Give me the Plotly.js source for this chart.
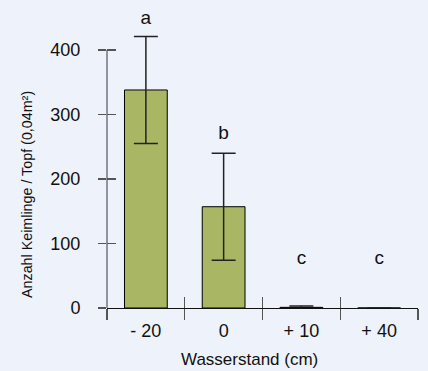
<!DOCTYPE html>
<html>
<head>
<meta charset="utf-8">
<script src="https://cdn.plot.ly/plotly-3.0.1.min.js"></script>
<style>html,body{margin:0;padding:0;background:#EEF2FA;}</style>
</head>
<body>
<div id="chart" style="width:428px;height:371px;"></div>
<script>
const categories = ['- 20', '0', '+ 10', '+ 40'];
const seedlings = [338, 157, 1, 0];
const errors = [83, 83, 2, 0];
const letters = ['a', 'b', 'c', 'c'];
const letterY = [447, 269, 75, 75];
const yTicks = [0, 100, 200, 300, 400];
const yRange = [0, 462];
const xTitle = 'Wasserstand (cm)';
const yTitle = 'Anzahl Keimlinge / Topf (0,04m²)';

const tickFont = {family: 'Liberation Sans Narrow, Arial Narrow, sans-serif', size: 18, color: '#111'};
const yTitleFont = {family: 'Liberation Sans, Arial, sans-serif', size: 14.3, color: '#111'};
const xTitleFont = {family: 'Liberation Sans, Arial, sans-serif', size: 17, color: '#111'};

const traces = [
  {
    type: 'bar', x: categories, y: seedlings, xaxis: 'x', yaxis: 'y',
    width: 0.55,
    marker: {color: '#A9B764', line: {color: '#000', width: 1}},
    error_y: {type: 'data', array: errors, visible: true, color: '#222', thickness: 1.5, width: 12},
    cliponaxis: false, hoverinfo: 'skip'
  },
  {
    type: 'scatter', mode: 'text', x: categories, y: letterY, text: letters,
    textfont: {family: 'Liberation Sans Narrow, Arial Narrow, sans-serif', size: 19, color: '#111'},
    cliponaxis: false, xaxis: 'x', yaxis: 'y', hoverinfo: 'skip'
  },
  {
    type: 'bar', x: categories, y: seedlings, xaxis: 'x2', yaxis: 'y2',
    width: 0.55, marker: {color: 'rgba(0,0,0,0)'}, hoverinfo: 'skip'
  }
];

const common = {showgrid: false, zeroline: false, fixedrange: true};
const layout = {
  width: 428, height: 371,
  margin: {l: 107, r: 10, t: 10, b: 63},
  paper_bgcolor: '#EEF2FA', plot_bgcolor: 'rgba(0,0,0,0)',
  showlegend: false,
  barmode: 'overlay',
  xaxis: Object.assign({}, common, {
    type: 'category', categoryorder: 'array', categoryarray: categories,
    range: [-0.5, 3.5], tickson: 'boundaries',
    ticks: 'outside', ticklen: 11, tickcolor: '#555', tickwidth: 1.2,
    showline: true, linecolor: '#111', linewidth: 1.2,
    tickfont: tickFont, ticklabelstandoff: 6
  }),
  xaxis2: Object.assign({}, common, {
    type: 'category', categoryorder: 'array', categoryarray: categories,
    range: [-0.5, 3.5], tickson: 'boundaries', overlaying: 'x', anchor: 'y2',
    ticks: 'inside', ticklen: 11, tickcolor: '#555', tickwidth: 1.2,
    showticklabels: false, showline: false
  }),
  yaxis: Object.assign({}, common, {
    range: yRange, tickmode: 'array', tickvals: yTicks,
    ticks: 'outside', ticklen: 8, tickcolor: '#555', tickwidth: 1.2,
    showline: false,
    tickfont: tickFont, ticklabelstandoff: 14
  }),
  yaxis2: Object.assign({}, common, {
    range: yRange, tickmode: 'array', tickvals: yTicks, overlaying: 'y', anchor: 'x2', side: 'left',
    ticks: 'inside', ticklen: 9, tickcolor: '#555', tickwidth: 1.2,
    showticklabels: false, showline: false
  }),
  shapes: [{
    type: 'line', xref: 'paper', yref: 'y', x0: 0, x1: 0,
    y0: yTicks[0], y1: yTicks[yTicks.length - 1],
    line: {color: '#555', width: 1.2}
  }],
  annotations: [
    {text: xTitle, font: xTitleFont, showarrow: false, xref: 'paper', yref: 'paper',
     x: (249 - 107) / 311, y: -(359 - 308) / 298, xanchor: 'center', yanchor: 'middle'},
    {text: yTitle, font: yTitleFont, showarrow: false, textangle: -90, xref: 'paper', yref: 'paper',
     x: (27 - 107) / 311, y: (308 - 195) / 298, xanchor: 'center', yanchor: 'middle'}
  ]
};

Plotly.newPlot('chart', traces, layout, {staticPlot: true, displayModeBar: false});
</script>
</body>
</html>
